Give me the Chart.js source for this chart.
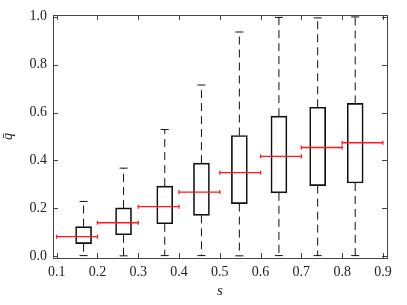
<!DOCTYPE html>
<html>
<head>
<meta charset="utf-8">
<script src="https://cdn.jsdelivr.net/npm/chart.js@4.4.0/dist/chart.umd.min.js"></script>
<style>
    html, body { margin: 0; padding: 0; background: #fff; }
    #wrap { width: 407px; height: 305px; }
</style>
</head>
<body>
<div id="wrap"><canvas id="chart" width="407" height="305"></canvas></div>
<script>
const positions = [0.166, 0.264, 0.365, 0.455, 0.548, 0.645, 0.740, 0.832];
const q1 = [0.053, 0.090, 0.136, 0.171, 0.220, 0.265, 0.295, 0.306];
const q3 = [0.124, 0.202, 0.293, 0.389, 0.504, 0.585, 0.622, 0.638];
const whiskLo = [0.003, 0.002, 0.003, 0.003, 0.002, 0.003, 0.003, 0.003];
const whiskHi = [0.229, 0.368, 0.529, 0.715, 0.936, 0.997, 0.995, 0.999];
const binLo = [0.1, 0.2, 0.3, 0.4, 0.5, 0.6, 0.7, 0.8];
const binHi = [0.2, 0.3, 0.4, 0.5, 0.6, 0.7, 0.8, 0.9];
const means = [0.082, 0.140, 0.207, 0.268, 0.349, 0.417, 0.454, 0.474];
const xTicks = [0.1, 0.2, 0.3, 0.4, 0.5, 0.6, 0.7, 0.8, 0.9];
const yTicks = [0.0, 0.2, 0.4, 0.6, 0.8, 1.0];

const FONT = "'Liberation Serif', 'DejaVu Serif', serif";
const FRAME = '#444';

const boxData = positions.map((x, i) => ({ x, y: [q1[i], q3[i]] }));
const whiskerData = [];
positions.forEach((x, i) => {
    whiskerData.push({ x, y: q3[i] }, { x, y: whiskHi[i] }, { x, y: null });
    whiskerData.push({ x, y: q1[i] }, { x, y: whiskLo[i] }, { x, y: null });
});
const capData = [];
positions.forEach((x, i) => {
    capData.push({ x, y: whiskHi[i] }, { x, y: whiskLo[i] });
});
const meanData = [];
means.forEach((m, i) => {
    meanData.push({ x: binLo[i], y: m }, { x: binHi[i], y: m }, { x: binHi[i], y: null });
});

// frame on all four sides with inward ticks
const framePlugin = {
    id: 'frame',
    afterDraw(chart) {
        const { ctx, chartArea: a, scales: { x, y } } = chart;
        ctx.save();
        ctx.strokeStyle = FRAME;
        ctx.lineWidth = 1;
        ctx.strokeRect(Math.round(a.left) + 0.5, Math.round(a.top) + 0.5,
            Math.round(a.right - a.left), Math.round(a.bottom - a.top));
        const len = 5;
        ctx.beginPath();
        xTicks.forEach(v => {
            const px = Math.round(x.getPixelForValue(v)) + 0.5;
            ctx.moveTo(px, a.bottom); ctx.lineTo(px, a.bottom - len);
            ctx.moveTo(px, a.top); ctx.lineTo(px, a.top + len);
        });
        yTicks.forEach(v => {
            const py = Math.round(y.getPixelForValue(v)) + 0.5;
            ctx.moveTo(a.left, py); ctx.lineTo(a.left + len, py);
            ctx.moveTo(a.right, py); ctx.lineTo(a.right - len, py);
        });
        ctx.stroke();
        ctx.restore();
    }
};

new Chart(document.getElementById('chart'), {
    type: 'bar',
    data: {
        datasets: [
            {
                type: 'line',
                data: meanData,
                borderColor: '#ff1a1a',
                borderWidth: 1.3,
                pointStyle: 'line',
                rotation: 90,
                pointRadius: 2,
                pointBorderWidth: 1.3,
                pointBorderColor: '#ff1a1a',
                spanGaps: false,
                order: 0
            },
            {
                type: 'bar',
                data: boxData,
                barThickness: 16,
                backgroundColor: 'rgba(0,0,0,0)',
                borderColor: '#111',
                borderWidth: 1,
                borderSkipped: false,
                order: 2
            },
            {
                type: 'scatter',
                data: capData,
                pointStyle: 'line',
                pointRadius: 4,
                pointBorderWidth: 1,
                pointBorderColor: '#111',
                showLine: false,
                order: 3
            },
            {
                type: 'line',
                data: whiskerData,
                borderColor: '#111',
                borderWidth: 1,
                borderDash: [8, 5],
                pointRadius: 0,
                spanGaps: false,
                order: 4
            }
        ]
    },
    options: {
        responsive: false,
        animation: false,
        events: [],
        layout: { padding: { top: 15, right: 20, left: 0, bottom: 0 } },
        plugins: { legend: { display: false }, tooltip: { enabled: false } },
        scales: {
            x: {
                type: 'linear',
                offset: false,
                min: 0.091,
                max: 0.91,
                afterBuildTicks: s => { s.ticks = xTicks.map(v => ({ value: v })); },
                afterFit: s => { s.height = 47; },
                grid: { display: false, drawTicks: false, offset: false },
                border: { display: false },
                ticks: {
                    padding: 6,
                    color: '#222',
                    font: { family: FONT, size: 14 },
                    maxRotation: 0,
                    callback: v => v.toFixed(1)
                },
                title: {
                    display: true,
                    text: 's',
                    color: '#222',
                    font: { family: FONT, size: 15, style: 'italic', lineHeight: 1 },
                    padding: { top: 0, bottom: 6 }
                }
            },
            y: {
                type: 'linear',
                min: -0.007,
                max: 1.007,
                afterBuildTicks: s => { s.ticks = yTicks.map(v => ({ value: v })); },
                afterFit: s => { s.width = 53; },
                grid: { display: false, drawTicks: false },
                border: { display: false },
                ticks: {
                    padding: 6,
                    color: '#222',
                    font: { family: FONT, size: 14 },
                    callback: v => v.toFixed(1)
                },
                title: {
                    display: true,
                    text: 'q\u0304',
                    color: '#222',
                    font: { family: FONT, size: 14, style: 'italic', lineHeight: 1 },
                    padding: { top: 1, bottom: 0 }
                }
            }
        }
    },
    plugins: [framePlugin]
});
</script>
</body>
</html>
